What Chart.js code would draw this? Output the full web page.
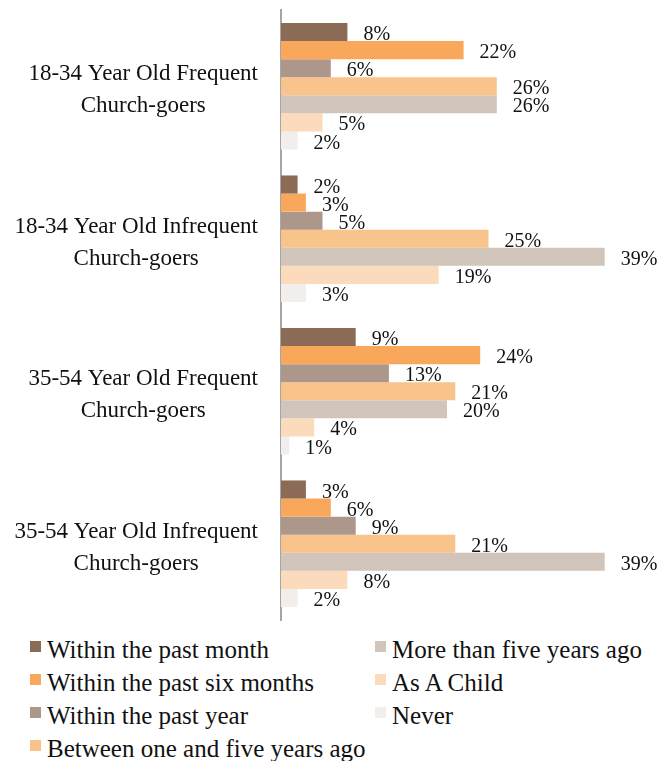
<!DOCTYPE html>
<html>
<head>
<meta charset="utf-8">
<script src="https://cdn.jsdelivr.net/npm/chart.js@4"></script>
<style>
  html, body { margin: 0; padding: 0; background: #fff; }
  body { width: 663px; height: 761px; overflow: hidden; font-family: "Liberation Serif", serif; }
  #wrap { position: relative; width: 663px; height: 630px; }
  #legend {
    display: grid;
    grid-template-columns: 345px 300px;
    grid-template-rows: repeat(4, 33px);
    grid-auto-flow: column;
    padding-left: 30px;
    margin-top: 3px;
  }
  .item { display: flex; align-items: flex-start; font-size: 25px; line-height: 33px; color: #111; white-space: nowrap; }
  .box { width: 11px; height: 11px; margin-top: 8px; margin-right: 6px; flex: none; }
</style>
</head>
<body>
<div id="wrap"><canvas id="chart"></canvas></div>
<div id="legend"></div>
<script>
const categories = [
  ['18-34 Year Old Frequent', 'Church-goers'],
  ['18-34 Year Old Infrequent', 'Church-goers'],
  ['35-54 Year Old Frequent', 'Church-goers'],
  ['35-54 Year Old Infrequent', 'Church-goers']
];
const seriesNames = [
  'Within the past month',
  'Within the past six months',
  'Within the past year',
  'Between one and five years ago',
  'More than five years ago',
  'As A Child',
  'Never'
];
const seriesColors = ['#8b6b55', '#f9a85b', '#ad978a', '#f9c38c', '#d1c4ba', '#fcdbbd', '#f1eeec'];

const pastMonth = [8, 2, 9, 3];
const pastSixMonths = [22, 3, 24, 6];
const pastYear = [6, 5, 13, 9];
const oneToFiveYears = [26, 25, 21, 21];
const moreThanFiveYears = [26, 39, 20, 39];
const asAChild = [5, 19, 4, 8];
const never = [2, 3, 1, 2];

const seriesValues = [pastMonth, pastSixMonths, pastYear, oneToFiveYears, moreThanFiveYears, asAChild, never];

const FONT = '"Liberation Serif", serif';

// value labels just right of each bar, baseline on the bar's lower edge
const barLabels = {
  id: 'barLabels',
  afterDatasetsDraw(chart) {
    const ctx = chart.ctx;
    ctx.save();
    ctx.font = '20px ' + FONT;
    ctx.fillStyle = '#111';
    ctx.textAlign = 'left';
    ctx.textBaseline = 'alphabetic';
    chart.data.datasets.forEach((ds, i) => {
      chart.getDatasetMeta(i).data.forEach((bar, j) => {
        ctx.fillText(ds.data[j] + '%', bar.x + 16, bar.y + bar.height / 2 - 1);
      });
    });
    ctx.restore();
  }
};

// category labels: block right-aligned to the axis, lines centred inside it
const categoryLabels = {
  id: 'categoryLabels',
  afterDraw(chart) {
    const ctx = chart.ctx;
    const yScale = chart.scales.y;
    const right = yScale.right - 23;
    const lineH = 32;
    ctx.save();
    ctx.font = '23px ' + FONT;
    ctx.fillStyle = '#111';
    ctx.textAlign = 'center';
    ctx.textBaseline = 'middle';
    chart.data.labels.forEach((lines, i) => {
      const widest = Math.max(...lines.map(l => ctx.measureText(l).width));
      const cx = right - widest / 2;
      const cy = yScale.getPixelForValue(i) + 4;
      lines.forEach((line, k) => {
        ctx.fillText(line, cx, cy + (k - (lines.length - 1) / 2) * lineH);
      });
    });
    ctx.restore();
  }
};

const chart = new Chart(document.getElementById('chart').getContext('2d'), {
  type: 'bar',
  data: {
    labels: categories,
    datasets: seriesNames.map((name, i) => ({
      label: name,
      data: seriesValues[i],
      backgroundColor: seriesColors[i],
      barPercentage: 1,
      categoryPercentage: 0.83
    }))
  },
  options: {
    indexAxis: 'y',
    responsive: true,
    maintainAspectRatio: false,
    animation: false,
    layout: { padding: { top: 10, bottom: 10, right: 50, left: 0 } },
    scales: {
      x: { display: false, min: 0, max: 40 },
      y: {
        grid: { display: false, drawTicks: false },
        border: { color: '#a6a6a6', width: 2 },
        ticks: { display: false },
        afterFit(scale) {
          scale.width = 281;
          scale.paddingTop = 0;
          scale.paddingBottom = 0;
        }
      }
    },
    plugins: {
      legend: { display: false },
      tooltip: { enabled: false }
    }
  },
  plugins: [barLabels, categoryLabels]
});

// legend in two columns, built from the series
const legendEl = document.getElementById('legend');
seriesNames.forEach((name, i) => {
  const item = document.createElement('div');
  item.className = 'item';
  const box = document.createElement('span');
  box.className = 'box';
  box.style.background = seriesColors[i];
  const txt = document.createElement('span');
  txt.textContent = name;
  item.appendChild(box);
  item.appendChild(txt);
  legendEl.appendChild(item);
});
</script>
</body>
</html>
